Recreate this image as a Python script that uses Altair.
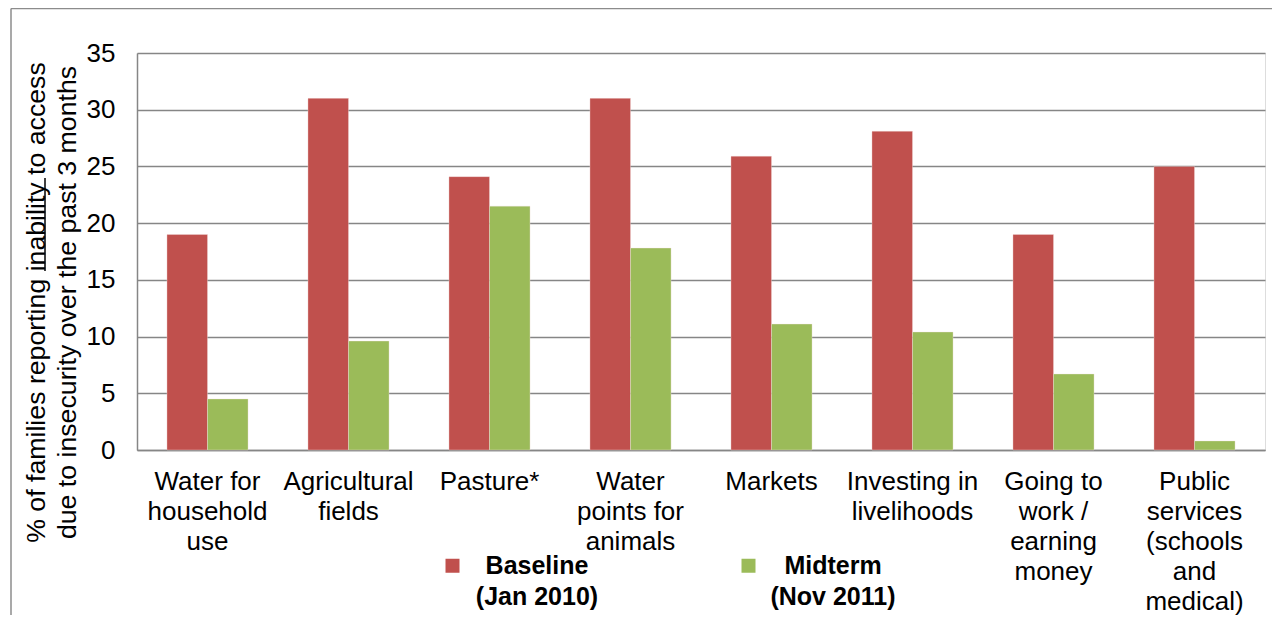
import json
import altair as alt
import pandas as pd

categories = [
    "Water for household use",
    "Agricultural fields",
    "Pasture*",
    "Water points for animals",
    "Markets",
    "Investing in livelihoods",
    "Going to work / earning money",
    "Public services (schools and medical)",
]
tick_labels = [
    ["Water for", "household", "use"],
    ["Agricultural", "fields"],
    ["Pasture*"],
    ["Water", "points for", "animals"],
    ["Markets"],
    ["Investing in", "livelihoods"],
    ["Going to", "work /", "earning", "money"],
    ["Public", "services", "(schools", "and", "medical)"],
]
series = ["Baseline (Jan 2010)", "Midterm (Nov 2011)"]
legend_labels = [["Baseline", "(Jan 2010)"], ["Midterm", "(Nov 2011)"]]
baseline_vals = [19.0, 31.0, 24.1, 31.0, 25.9, 28.1, 19.0, 25.0]
midterm_vals = [4.5, 9.6, 21.5, 17.8, 11.1, 10.4, 6.7, 0.8]
colors = ["#C0504D", "#9BBB59"]

rows = []
for c, b, m in zip(categories, baseline_vals, midterm_vals):
    rows.append({"category": c, "series": series[0], "value": b})
    rows.append({"category": c, "series": series[1], "value": m})
df = pd.DataFrame(rows)

x_map = json.dumps(dict(zip(categories, tick_labels)))
leg_map = json.dumps(dict(zip(series, legend_labels)))

FONT = "Liberation Sans"
GRID = "#868686"

bars = alt.Chart(df).mark_bar(stroke="#f4e0e0", strokeWidth=0.6, strokeOpacity=0.6).encode(
    x=alt.X(
        "category:N",
        sort=categories,
        scale=alt.Scale(paddingInner=0.425, paddingOuter=0.2125),
        axis=alt.Axis(
            title=None,
            labelExpr=f"{x_map}[datum.label]",
            labelAngle=0,
            labelFontSize=26,
            labelLineHeight=30,
            labelPadding=18,
            labelBaseline="top",
            labelColor="#000000",
            labelFont=FONT,
            ticks=False,
            domainColor=GRID,
            domainWidth=1.5,
            grid=False,
            labelLimit=0,
        ),
    ),
    xOffset=alt.XOffset("series:N", sort=series, scale=alt.Scale(paddingInner=0, paddingOuter=0)),
    y=alt.Y(
        "value:Q",
        scale=alt.Scale(domain=[0, 35], nice=False),
        axis=alt.Axis(
            values=[0, 5, 10, 15, 20, 25, 30, 35],
            title=[
                "% of families reporting inability to access",
                "due to insecurity over the past 3 months",
            ],
            titleFont=FONT,
            titleFontSize=26.7,
            titleFontWeight="normal",
            titleColor="#000000",
            titleAngle=-90,
            titleAlign="center",
            titleBaseline="top",
            titleLineHeight=31,
            titleX=-114,
            titleY=249,
            labelFontSize=26,
            labelFont=FONT,
            labelColor="#000000",
            labelPadding=22,
            ticks=False,
            domainColor=GRID,
            domainWidth=1.5,
            gridColor=GRID,
            gridWidth=1.6,
        ),
    ),
    color=alt.Color(
        "series:N",
        sort=series,
        scale=alt.Scale(domain=series, range=colors),
        legend=alt.Legend(
            title=None,
            orient="none",
            direction="horizontal",
            legendX=303,
            legendY=500,
            symbolType="square",
            symbolSize=196,
            symbolStrokeWidth=0,
            labelExpr=f"{leg_map}[datum.label]",
            labelAlign="center",
            labelBaseline="middle",
            labelOffset=72,
            labelFontSize=25,
            labelFontWeight="bold",
            labelFont=FONT,
            labelColor="#000000",
            labelLimit=0,
            columnPadding=137,
        ),
    ),
)

one = pd.DataFrame({"a": [0]})

underline = alt.Chart(one).mark_rule(color="#000000", strokeWidth=1.5).encode(
    x=alt.value(-92), y=alt.value(125), y2=alt.value(218)
)
frame_left = alt.Chart(one).mark_rule(color="#8c8c8c", strokeWidth=1.5).encode(
    x=alt.value(-126), y=alt.value(-44.5), y2=alt.value(562)
)
frame_top = alt.Chart(one).mark_rule(color="#8c8c8c", strokeWidth=1.5).encode(
    x=alt.value(-126), x2=alt.value(1140), y=alt.value(-44.5)
)

chart = alt.layer(bars, underline, frame_left, frame_top).properties(
    width=1128,
    height=397,
    autosize=alt.AutoSizeParams(type="none"),
    padding={"left": 129, "top": 45, "right": 7, "bottom": 165},
).configure_view(stroke=None).configure(
    font=FONT, style={"guide-label": {"lineHeight": 31}}
)

chart.save("out.html", embed_options={"renderer": "svg", "actions": False})
